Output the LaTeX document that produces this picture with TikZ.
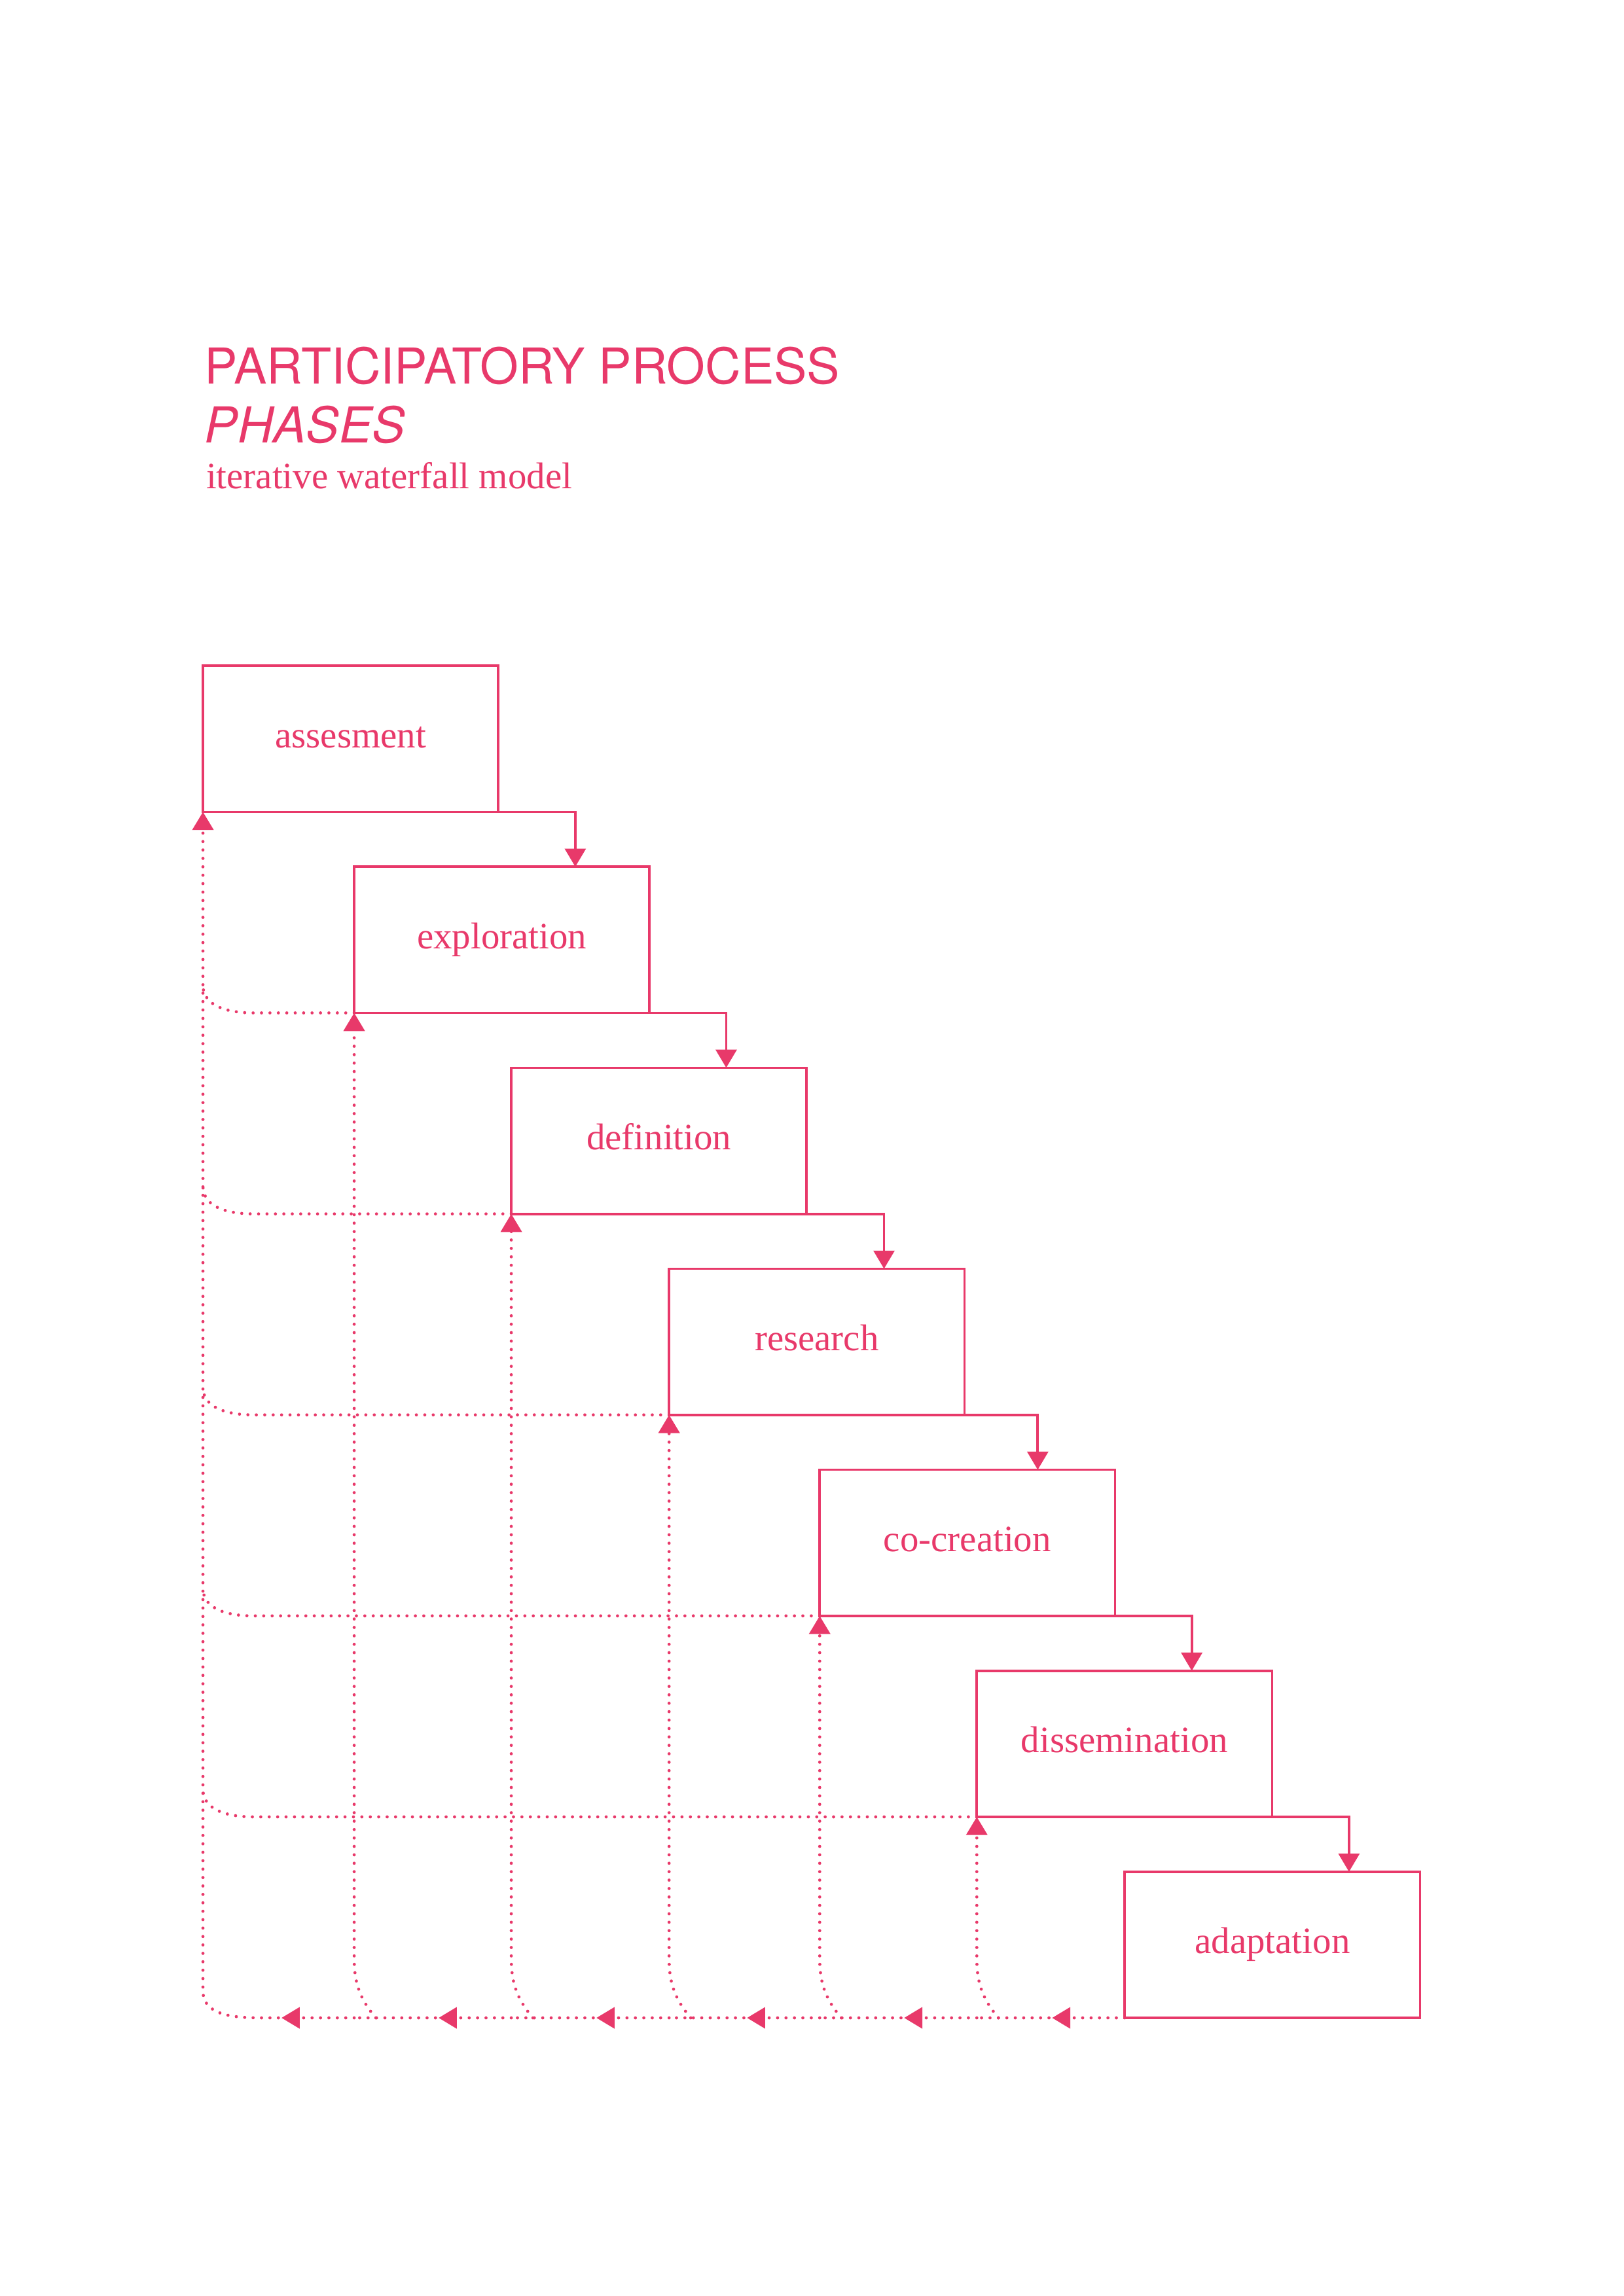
\documentclass[tikz,border=0pt]{standalone}
\usepackage{fontspec}
\setmainfont{Liberation Serif}
\setsansfont{TeX Gyre Heros}
\usetikzlibrary{arrows.meta,positioning,calc,decorations.markings}
\definecolor{rose}{HTML}{E8396A}

\begin{document}
\begin{tikzpicture}[font=\fontsize{13.7}{16}\selectfont,color=rose,
  phase/.style={draw,line width=0.9pt,minimum width=3.82cm,minimum height=1.89cm,inner sep=0pt,outer sep=0pt,text height=6.5pt,text depth=0pt},
  arr/.style={-{Triangle[length=2.35mm,width=2.7mm]},line width=0.9pt},
  fb/.style={line width=1.15pt,dash pattern=on 0pt off 3.1pt,line cap=round},
  fbarr/.style={fb,-{Triangle[length=2.35mm,width=2.7mm]}},
  mid/.style={postaction={decorate},decoration={markings,mark=at position 0.94cm with {\arrow{Triangle[length=2.35mm,width=2.7mm]}}}},
  node distance=0.71cm and 1.99cm]
  \useasboundingbox (0,0) rectangle (21,-29.7);
  % title
  \node[anchor=base west,inner sep=0pt,font=\sffamily\fontsize{18.2}{21}\selectfont] (t1) at (2.64,-4.962) {PARTICIPATORY PROCESS};
  \node[anchor=base west,inner sep=0pt,font=\sffamily\itshape\fontsize{18.2}{21}\selectfont] (t2) at (2.64,-5.724) {PHASES};
  \node[anchor=base west,inner sep=0pt] (t3) at (2.66,-6.317) {iterative waterfall model};
  % phases
  \node[phase,anchor=north west] (as) at (2.625,-8.612) {assesment};
  \node[phase,below right=0.71cm and 1.956cm of as.south west] (ex) {exploration};
  \node[phase,below right=0.71cm and 2.032cm of ex.south west] (de) {definition};
  \node[phase,below right=0.71cm and 2.041cm of de.south west] (re) {research};
  \node[phase,below right=0.71cm and 1.948cm of re.south west] (co) {co-creation};
  \node[phase,below right=0.71cm and 2.032cm of co.south west] (di) {dissemination};
  \node[phase,below right=0.71cm and 1.914cm of di.south west] (ad) {adaptation};
  \draw[arr](as.south east)-|([xshift=2.86cm]ex.north west);\draw[arr](ex.south east)-|([xshift=2.78cm]de.north west);
  \draw[arr](de.south east)-|([xshift=2.78cm]re.north west);\draw[arr](re.south east)-|([xshift=2.82cm]co.north west);
  \draw[arr](co.south east)-|([xshift=2.78cm]di.north west);\draw[arr](di.south east)-|([xshift=2.9cm]ad.north west);
  % feedback back to the first phase
  \draw[fb](ex.south west)--($(as.south west|-ex.south west)+(0.65,0)$) to[out=180,in=-90] ++(-0.65,0.36);
  \draw[fb](de.south west)--($(as.south west|-de.south west)+(0.65,0)$) to[out=180,in=-90] ++(-0.65,0.36);
  \draw[fb](re.south west)--($(as.south west|-re.south west)+(0.65,0)$) to[out=180,in=-90] ++(-0.65,0.36);
  \draw[fb](co.south west)--($(as.south west|-co.south west)+(0.65,0)$) to[out=180,in=-90] ++(-0.65,0.36);
  \draw[fb](di.south west)--($(as.south west|-di.south west)+(0.65,0)$) to[out=180,in=-90] ++(-0.65,0.36);
  % feedback to each phase
  \draw[fbarr]($(ex.south west|-ad.south west)+(0.28,0)$) to[out=130,in=-90] ++(-0.28,0.77)--(ex.south west);
  \draw[fbarr]($(de.south west|-ad.south west)+(0.28,0)$) to[out=130,in=-90] ++(-0.28,0.77)--(de.south west);
  \draw[fbarr]($(re.south west|-ad.south west)+(0.28,0)$) to[out=130,in=-90] ++(-0.28,0.77)--(re.south west);
  \draw[fbarr]($(co.south west|-ad.south west)+(0.28,0)$) to[out=130,in=-90] ++(-0.28,0.77)--(co.south west);
  \draw[fbarr]($(di.south west|-ad.south west)+(0.28,0)$) to[out=130,in=-90] ++(-0.28,0.77)--(di.south west);
  % bottom line
  \draw[fb,mid](ad.south west)--(di.south west|-ad.south west);\draw[fb,mid](di.south west|-ad.south west)--(co.south west|-ad.south west);
  \draw[fb,mid](co.south west|-ad.south west)--(re.south west|-ad.south west);\draw[fb,mid](re.south west|-ad.south west)--(de.south west|-ad.south west);
  \draw[fb,mid](de.south west|-ad.south west)--(ex.south west|-ad.south west);
  \draw[fbarr,mid](ex.south west|-ad.south west)--($(as.south west|-ad.south west)+(0.8,0)$) to[out=180,in=-90] ++(-0.8,0.35)--(as.south west);
\end{tikzpicture}
\end{document}
